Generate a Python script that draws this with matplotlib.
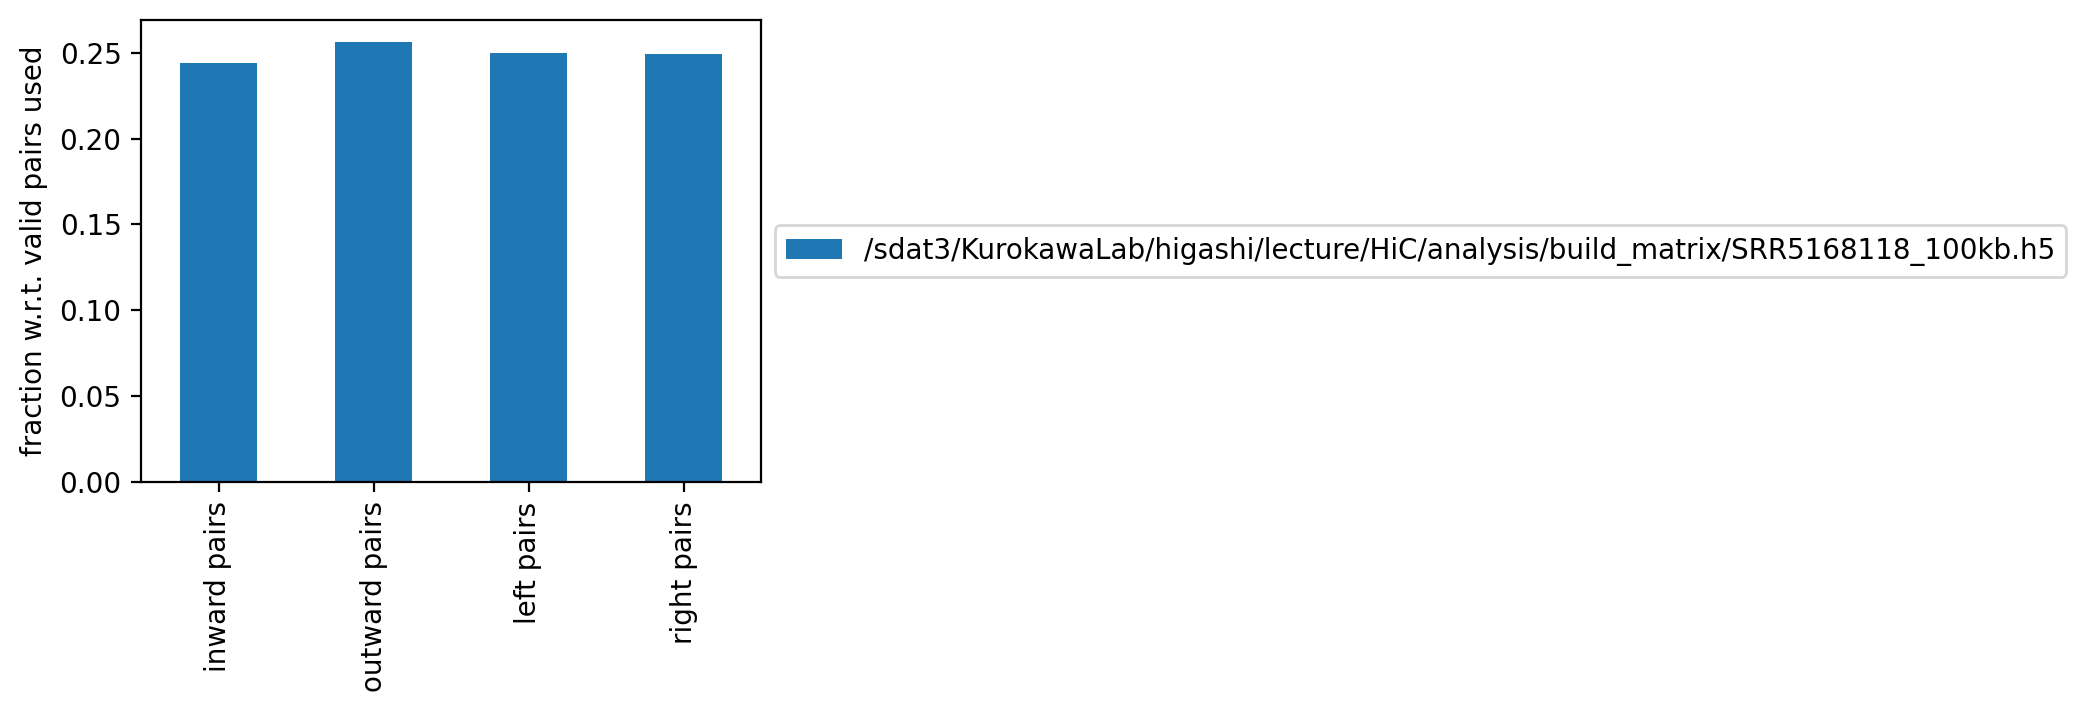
import matplotlib
matplotlib.use("Agg")
import matplotlib.pyplot as plt

categories = ["inward pairs", "outward pairs", "left pairs", "right pairs"]
values = [0.2440, 0.2563, 0.2499, 0.2493]
series_label = "/sdat3/KurokawaLab/higashi/lecture/HiC/analysis/build_matrix/SRR5168118_100kb.h5"
ylabel = "fraction w.r.t. valid pairs used"

W, H, DPI = 2085, 712, 200
fig = plt.figure(figsize=(W / DPI, H / DPI), dpi=DPI)
ax = fig.add_axes([141 / W, (H - 482) / H, 620 / W, 462 / H])

x = list(range(len(categories)))
ax.bar(x, values, width=0.5, color="#1f77b4", label=series_label)
ax.set_xlim(-0.5, len(categories) - 0.5)
ax.set_ylim(0, max(values) * 1.05)
ax.set_xticks(x)
ax.set_xticklabels(categories, rotation=90)
ax.set_ylabel(ylabel)
ax.legend(loc="center left", bbox_to_anchor=(1, 0.5))

fig.savefig("out.png", dpi=DPI)
